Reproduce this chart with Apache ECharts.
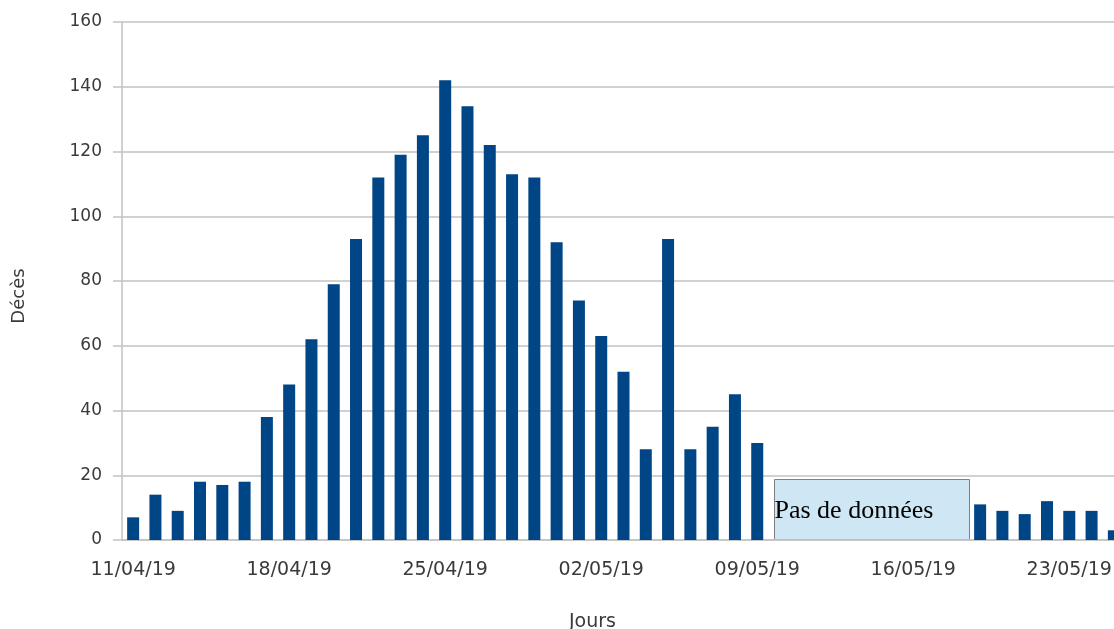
<!DOCTYPE html>
<html>
<head>
<meta charset="utf-8">
<script src="https://cdn.jsdelivr.net/npm/echarts@6/dist/echarts.min.js"></script>
<style>
  html, body { margin: 0; padding: 0; background: #fff; }
  #chart { width: 1114px; height: 629px; }
</style>
</head>
<body>
<div id="chart"></div>
<script>
  // jours, du 11/04/19 au 25/05/19
  const jours = [
    '11/04/19', '12/04/19', '13/04/19', '14/04/19', '15/04/19', '16/04/19', '17/04/19',
    '18/04/19', '19/04/19', '20/04/19', '21/04/19', '22/04/19', '23/04/19', '24/04/19',
    '25/04/19', '26/04/19', '27/04/19', '28/04/19', '29/04/19', '30/04/19', '01/05/19',
    '02/05/19', '03/05/19', '04/05/19', '05/05/19', '06/05/19', '07/05/19', '08/05/19',
    '09/05/19', '10/05/19', '11/05/19', '12/05/19', '13/05/19', '14/05/19', '15/05/19',
    '16/05/19', '17/05/19', '18/05/19', '19/05/19', '20/05/19', '21/05/19', '22/05/19',
    '23/05/19', '24/05/19', '25/05/19'
  ];
  // décès par jour (null = pas de données)
  const deces = [
    7, 14, 9, 18, 17, 18, 38,
    48, 62, 79, 93, 112, 119, 125,
    142, 134, 122, 113, 112, 92, 74,
    63, 52, 28, 93, 28, 35, 45,
    30, null, null, null, null, null, null,
    null, null, null, 11, 9, 8, 12,
    9, 9, 3
  ];
  const yTicks = { min: 0, max: 160, interval: 20 };

  const chart = echarts.init(document.getElementById('chart'));
  const gris = '#c2c2c2';
  const texte = '#3a3a3a';
  const police = 'DejaVu Sans';

  chart.setOption({
    animation: false,
    // le graphique déborde à droite (dernier jour coupé)
    grid: { left: 122, width: 1003, top: 22, height: 518, outerBoundsMode: 'none', containLabel: false },
    xAxis: {
      type: 'category',
      data: jours,
      boundaryGap: true,
      name: 'Jours',
      nameLocation: 'middle',
      nameGap: 73,
      nameTextStyle: { color: texte, fontSize: 19, fontFamily: police, padding: [0, 62, 0, 0] },
      axisLine: { lineStyle: { color: gris, width: 1.5 } },
      axisTick: { interval: 6, alignWithLabel: false, length: 6, lineStyle: { color: gris, width: 1.5 } },
      axisLabel: {
        interval: 6,
        margin: 21,
        color: texte,
        fontSize: 19,
        fontFamily: police
      }
    },
    yAxis: {
      type: 'value',
      min: yTicks.min,
      max: yTicks.max,
      interval: yTicks.interval,
      name: 'Décès',
      nameLocation: 'middle',
      nameGap: 94,
      nameRotate: 90,
      nameTextStyle: { color: texte, fontSize: 18, fontFamily: police, padding: [0, 30, 0, 0] },
      axisLine: { show: true, lineStyle: { color: gris, width: 1.5 } },
      axisTick: { show: true, length: 9, lineStyle: { color: gris, width: 1.5 } },
      axisLabel: { margin: 20, color: texte, fontSize: 17, fontFamily: police },
      splitLine: { lineStyle: { color: gris, width: 1.5 } }
    },
    series: [{
      type: 'bar',
      data: deces,
      barWidth: 12,
      itemStyle: { color: '#004586' }
    }],
    graphic: [{
      type: 'group',
      left: 774,
      top: 479,
      children: [{
        type: 'rect',
        shape: { x: 0, y: 0, width: 195, height: 60 },
        style: { fill: '#cfe6f5', stroke: '#808080', lineWidth: 1 }
      }, {
        type: 'text',
        x: 0,
        y: 32,
        style: {
          text: 'Pas de données',
          fill: '#000',
          font: '26px "Liberation Serif", serif',
          textVerticalAlign: 'middle'
        }
      }]
    }]
  });
</script>
</body>
</html>
